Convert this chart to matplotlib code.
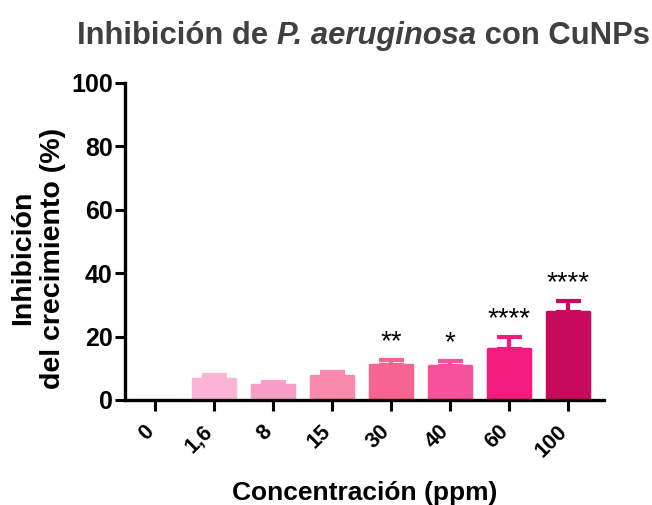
import numpy as np
import matplotlib
matplotlib.use('Agg')
import matplotlib.pyplot as plt

plt.rcParams['font.family'] = ['Liberation Sans', 'DejaVu Sans']
plt.rcParams['font.weight'] = 'bold'

# data
conc = ['0', '1,6', '8', '15', '30', '40', '60', '100']
inhib = [0.0, 6.6, 4.8, 7.7, 10.9, 10.6, 16.2, 27.7]
err = [0.0, 1.4, 0.8, 1.0, 1.6, 1.7, 3.6, 3.4]
stars = ['', '', '', '', '**', '*', '****', '****']
colors = ['#FDB3D6', '#FDB3D6', '#F99EC9', '#F98AAD', '#F76492',
          '#F7519C', '#F51B7E', '#C70A5E']

fig = plt.figure(figsize=(6.52, 5.05), dpi=100)
ax = fig.add_axes([0.192, 0.208, 0.734, 0.628])

x = np.arange(len(conc))
bars = ax.bar(x, inhib, width=0.71, color=colors, edgecolor=colors,
              linewidth=2.5, zorder=2)
for b in bars:
    b.set_joinstyle('round')
for i in range(len(x)):
    if err[i] > 0:
        ax.errorbar(x[i], inhib[i], yerr=[[0], [err[i]]], fmt='none',
                    ecolor=colors[i], elinewidth=3, capsize=9,
                    capthick=3, zorder=1)
    if stars[i]:
        ax.text(x[i], inhib[i] + err[i] + 1.6, stars[i], ha='center',
                va='bottom', fontsize=20, fontweight='normal')

ax.set_xlim(-0.51, 7.6)
ax.set_ylim(0, 100)
ax.set_yticks([0, 20, 40, 60, 80, 100])
ax.set_xticks(x)
ax.set_xticklabels([])
# rotated category labels, placed a bit left of each tick
for i, lab in enumerate(conc):
    ax.annotate(lab, xy=(x[i], 0), xycoords=('data', 'axes fraction'),
                xytext=(-8.6, -15), textcoords='offset points',
                rotation=45, rotation_mode='anchor', ha='right', va='top',
                fontsize=15.5, fontweight='bold', annotation_clip=False)
ax.tick_params(axis='y', labelsize=18, width=2.2, length=7, pad=2)
ax.tick_params(axis='x', width=2.2, length=8)
for lbl in ax.get_yticklabels():
    lbl.set_fontweight('bold')
for s in ['top', 'right']:
    ax.spines[s].set_visible(False)
for s in ['left', 'bottom']:
    ax.spines[s].set_linewidth(2.4)

ax.set_xlabel('Concentración (ppm)', fontsize=19, fontweight='bold')
ax.xaxis.set_label_coords(0.5, -0.255)
ax.set_ylabel('Inhibición\ndel crecimiento (%)', fontsize=20.5,
              fontweight='bold')
ax.yaxis.set_label_coords(-0.123, 0.447)

# title with italic species name
fig.canvas.draw()
r = fig.canvas.get_renderer()
parts = [('Inhibición de ', 'normal'), ('P. aeruginosa', 'italic'), (' con CuNPs', 'normal')]
xpos = 77
for txt, st in parts:
    t = fig.text(xpos / 652, 1 - 36 / 505, txt, fontsize=22.3, fontweight='bold',
                 style=st, color='#404040', va='center', ha='left')
    xpos += t.get_window_extent(r).width

fig.savefig('out.png', dpi=100)
